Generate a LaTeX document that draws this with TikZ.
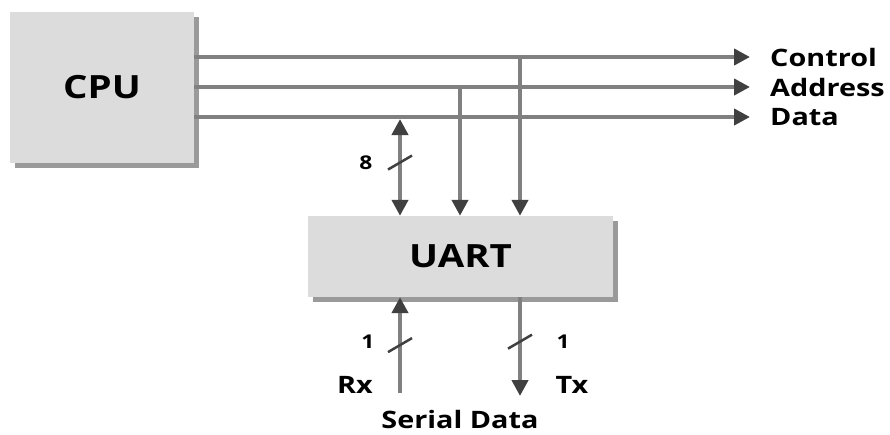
\documentclass[tikz,border=0pt]{standalone}
\usepackage{fontspec}
\setmainfont{Open Sans}[FakeStretch=1.2]
\usetikzlibrary{arrows.meta, shadows, positioning}

\definecolor{boxgray}{HTML}{DCDCDC}
\definecolor{shadegray}{HTML}{9A9A9A}
\definecolor{busgray}{HTML}{808080}
\definecolor{tipgray}{HTML}{404040}

\begin{document}
\begin{tikzpicture}[
    x=1pt, y=-1pt,
    font=\bfseries,
    unit/.style={draw=none, fill=boxgray, font=\fontsize{32}{32}\bfseries,
        drop shadow={shadow xshift=5pt, shadow yshift=-5pt, fill=shadegray, opacity=1}},
    bus/.style={line width=4pt, draw=busgray,
        -{Triangle[length=16pt, width=16pt, color=tipgray]}},
    twoway/.style={bus, {Triangle[length=16pt, width=16pt, color=tipgray]}-{Triangle[length=16pt, width=16pt, color=tipgray]}},
    tag/.style={font=\fontsize{24}{24}\bfseries, inner sep=0pt},
    width/.style={font=\fontsize{19}{19}\bfseries, inner sep=0pt},
    slash/.style={line width=2.5pt, draw=tipgray}
]
   \useasboundingbox (0,0) rectangle (890,434);

   % Blocks
   \node[unit, minimum width=184pt, minimum height=151pt] (cpu) at (102,87.5) {CPU};
   \node[unit, minimum width=305pt, minimum height=81pt] (uart) at (460.5,256.5) {UART};

   % Bus ends
   \coordinate (ctlEnd) at (750,57);
   \coordinate (adrEnd) at (750,87);
   \coordinate (datEnd) at (750,117);
   \coordinate (ctlTap) at (520,57);
   \coordinate (adrTap) at (460,87);
   \coordinate (datTap) at (400,119);
   \coordinate (rxEnd) at (400,393);
   \coordinate (txEnd) at (520,396);

   % System bus
   \draw[bus] (cpu.east |- ctlEnd) -- (ctlEnd);
   \draw[bus] (cpu.east |- adrEnd) -- (adrEnd);
   \draw[bus] (cpu.east |- datEnd) -- (datEnd);
   \node[tag, anchor=west] (ctl) at ([xshift=20pt]ctlEnd) {Control};
   \node[tag, anchor=west] (adr) at ([xshift=20pt]adrEnd) {Address};
   \node[tag, anchor=west] (dat) at ([xshift=20pt]datEnd) {Data};

   % Taps into the UART
   \draw[bus] ([yshift=-2pt]ctlTap) -- (ctlTap |- uart.north);
   \draw[bus] ([yshift=-2pt]adrTap) -- (adrTap |- uart.north);
   \draw[twoway] (datTap) -- (datTap |- uart.north) coordinate[pos=.45] (w8);

   % Serial side
   \draw[bus] (rxEnd) -- (rxEnd |- uart.south) coordinate[pos=.5] (w1rx);
   \draw[bus] (uart.south -| txEnd) -- (txEnd) coordinate[pos=.45] (w1tx);

   % Bus widths
   \draw[slash] ([shift={(-12,7)}]w8) -- ([shift={(12,-7)}]w8);
   \draw[slash] ([shift={(-12,7)}]w1rx) -- ([shift={(12,-7)}]w1rx);
   \draw[slash] ([shift={(-12,7)}]w1tx) -- ([shift={(12,-7)}]w1tx);
   \node[width] (n8) at (366,163) {8};
   \node[width] (n1rx) at (368,342) {1};
   \node[width] (n1tx) at (563,342) {1};

   \node[tag] (rx) at (355,385) {Rx};
   \node[tag] (tx) at (572,385) {Tx};
   \node[tag] (serial) at (460,419) {Serial Data};

\end{tikzpicture}
\end{document}
